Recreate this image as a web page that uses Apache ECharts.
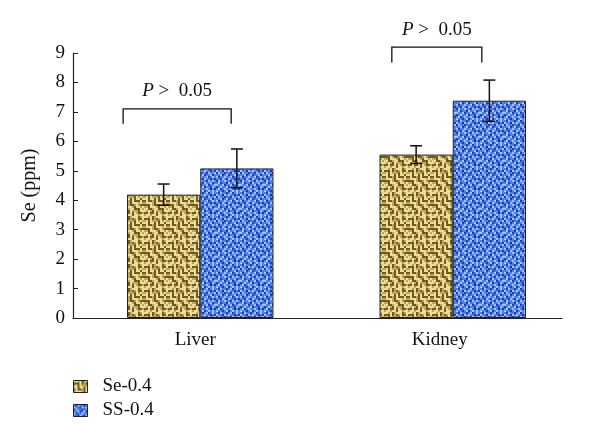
<!DOCTYPE html>
<html>
<head>
<meta charset="utf-8">
<script src="https://cdn.jsdelivr.net/npm/echarts@6/dist/echarts.min.js"></script>
<style>
  html, body { margin: 0; padding: 0; background: #fff; }
  #chart { width: 600px; height: 444px; }
</style>
</head>
<body>
<div id="chart"></div>
<script>
// data
const categories = ['Liver', 'Kidney'];
const seriesNames = ['Se-0.4', 'SS-0.4'];
const seValues = [4.19, 5.55];
const seErrors = [0.36, 0.30];
const ssValues = [5.08, 7.38];
const ssErrors = [0.66, 0.70];
// bracket: [category, top, leg bottom]
const brackets = [[0, 7.1, 6.6], [1, 9.2, 8.68]];

const FONT = "'Liberation Serif', 'DejaVu Serif', serif";

// texture tile for the bars (each char is a 2x2 block)
function makeTile(rows, colors) {
  const s = 2;
  const c = document.createElement('canvas');
  c.width = rows[0].length * s;
  c.height = rows.length * s;
  const ctx = c.getContext('2d');
  rows.forEach((r, y) => {
    for (let x = 0; x < r.length; x++) {
      ctx.fillStyle = colors[r[x]];
      ctx.fillRect(x * s, y * s, s, s);
    }
  });
  return c;
}

const goldTile = makeTile([
  'LLMLDMLLLDML',
  'DDDLDMDMLDDL',
  'MLDLMMMDLMLM',
  'LLDLLDLDLLDL',
  'DLDDMDLDDDLD',
  'MLLLMDLLLMLM',
  'DDDLMDDMLMDD',
  'MMDLLLMDLLML',
  'LLDDMLLDDDLM',
  'LMLMDLMMMDLL',
  'DDLDDLDLMDDM',
  'MLLMLLDLLMLL'
], { L: '#ecdc98', M: '#bfa658', D: '#6e5a22' });

const blueTile = makeTile([
  'MDLMMDMLDMLM',
  'LMMDLMLMMDMD',
  'DLMMDMMDLMML',
  'MMLDMLDMMLDM',
  'LDMMLMMLDMLM',
  'MMDLMDLMMDMD',
  'DLMMLMMDLMLM',
  'MLDMMDLMMLDM',
  'LMMLDMMLDMML',
  'DMLMMLDMMDLM',
  'MLDMLMMLMDMD',
  'LMMDMLDMLMLM'
], { L: '#a8c5fb', M: '#4d7eec', D: '#1a3db8' });

const chart = echarts.init(document.getElementById('chart'));

function errorRender(shift) {
  return function (params, api) {
    const cat = api.value(0);
    const v = api.value(1);
    const e = api.value(2);
    const band = api.size([1, 0])[0];
    const x = api.coord([cat, 0])[0] + shift * band;
    const top = api.coord([cat, v + e])[1];
    const bot = api.coord([cat, v - e])[1];
    const cap = 6;
    const st = { stroke: '#111', lineWidth: 1.5 };
    return {
      type: 'group',
      children: [
        { type: 'line', shape: { x1: x, y1: top, x2: x, y2: bot }, style: st },
        { type: 'line', shape: { x1: x - cap, y1: top, x2: x + cap, y2: top }, style: st },
        { type: 'line', shape: { x1: x - cap, y1: bot, x2: x + cap, y2: bot }, style: st }
      ]
    };
  };
}

// horizontal extent of each bracket, as fraction of band width
const bracketSpan = [[-0.295, 0.147], [-0.196, 0.172]];

chart.setOption({
  animation: false,
  grid: [
    { left: 73, right: 38, top: 53, bottom: 126 },
    // bars sit a little right of the label grid in the original
    { left: 74, right: 21, top: 53, bottom: 126 }
  ],
  legend: {
    data: seriesNames,
    orient: 'vertical',
    left: 68,
    top: 372,
    itemWidth: 14,
    itemHeight: 12,
    itemGap: 5,
    icon: 'rect',
    itemStyle: { borderColor: '#222', borderWidth: 1 },
    textStyle: { fontFamily: FONT, fontSize: 19, color: '#111', lineHeight: 16, padding: [0, 0, 0, 10] }
  },
  xAxis: [
    {
      type: 'category',
      gridIndex: 0,
      data: categories,
      axisLine: { lineStyle: { color: '#222', width: 1.2 } },
      axisTick: { inside: true, length: 4, lineStyle: { color: '#222' } },
      axisLabel: { fontFamily: FONT, fontSize: 19, color: '#111', margin: 13 }
    },
    {
      type: 'category',
      gridIndex: 1,
      data: categories,
      show: false
    }
  ],
  yAxis: [
    {
      type: 'value',
      gridIndex: 0,
      min: 0,
      max: 9,
      interval: 1,
      name: 'Se (ppm)',
      nameLocation: 'middle',
      nameGap: 33,
      nameTextStyle: { fontFamily: FONT, fontSize: 20, color: '#111' },
      splitLine: { show: false },
      axisLine: { show: true, lineStyle: { color: '#222', width: 1.2 } },
      axisTick: { show: true, inside: true, length: 5, lineStyle: { color: '#222' } },
      axisLabel: { fontFamily: FONT, fontSize: 19, color: '#111', margin: 8 }
    },
    {
      type: 'value',
      gridIndex: 1,
      min: 0,
      max: 9,
      interval: 1,
      show: false
    }
  ],
  series: [
    {
      name: seriesNames[0],
      type: 'bar',
      xAxisIndex: 1,
      yAxisIndex: 1,
      data: seValues,
      barWidth: '29%',
      barGap: '0%',
      itemStyle: { color: { image: goldTile, repeat: 'repeat' }, borderColor: '#222', borderWidth: 1 }
    },
    {
      name: seriesNames[1],
      type: 'bar',
      xAxisIndex: 1,
      yAxisIndex: 1,
      data: ssValues,
      barWidth: '29%',
      barGap: '0%',
      itemStyle: { color: { image: blueTile, repeat: 'repeat' }, borderColor: '#222', borderWidth: 1 }
    },
    {
      type: 'custom',
      xAxisIndex: 1,
      yAxisIndex: 1,
      renderItem: errorRender(-0.145),
      data: categories.map((c, i) => [i, seValues[i], seErrors[i]]),
      z: 5
    },
    {
      type: 'custom',
      xAxisIndex: 1,
      yAxisIndex: 1,
      renderItem: errorRender(0.145),
      data: categories.map((c, i) => [i, ssValues[i], ssErrors[i]]),
      z: 5
    },
    {
      type: 'custom',
      clip: false,
      data: brackets,
      z: 5,
      renderItem: function (params, api) {
        const cat = api.value(0);
        const band = api.size([1, 0])[0];
        const cx = api.coord([cat, 0])[0];
        const span = bracketSpan[params.dataIndex];
        const x1 = cx + span[0] * band;
        const x2 = cx + span[1] * band;
        const yt = api.coord([cat, api.value(1)])[1];
        const yb = api.coord([cat, api.value(2)])[1];
        return {
          type: 'group',
          children: [
            {
              type: 'polyline',
              shape: { points: [[x1, yb], [x1, yt], [x2, yt], [x2, yb]] },
              style: { stroke: '#111', lineWidth: 1.3, fill: null }
            },
            {
              type: 'text',
              x: (x1 + x2) / 2,
              y: yt - 8,
              style: {
                text: '{i|P} >  0.05',
                align: 'center',
                verticalAlign: 'bottom',
                fill: '#111',
                font: '19px ' + FONT,
                rich: { i: { fontStyle: 'italic', fontFamily: FONT, fontSize: 19 } }
              }
            }
          ]
        };
      }
    }
  ]
});
</script>
</body>
</html>
